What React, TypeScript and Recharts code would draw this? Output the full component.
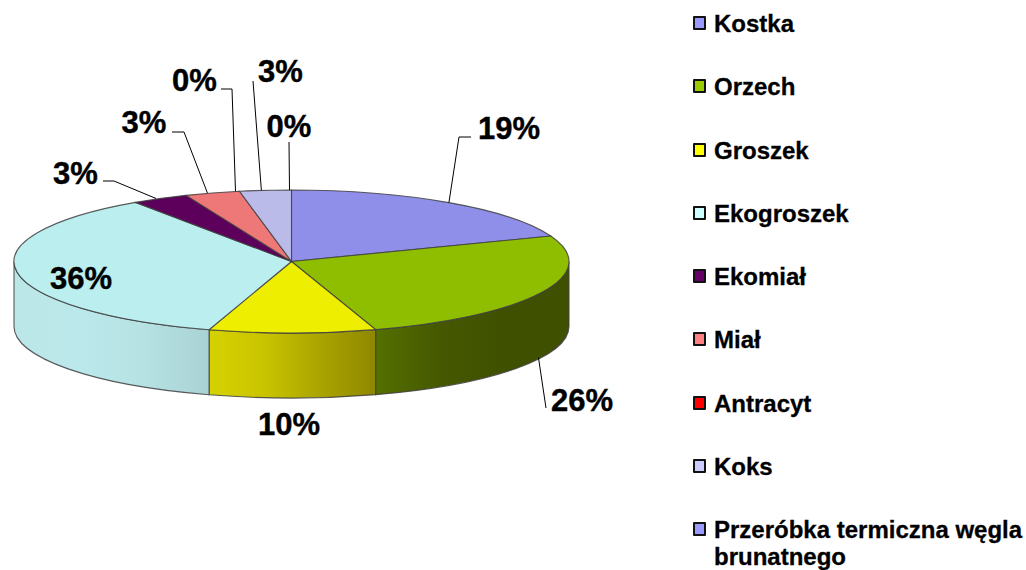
import React from "react";
import { PieChart, Pie, Legend } from "recharts";

const categories = ["Kostka", "Orzech", "Groszek", "Ekogroszek", "Ekomiał", "Miał", "Antracyt", "Koks", "Przeróbka termiczna węgla brunatnego"];
const shares = [19.2, 25.9, 9.7, 35.7, 3.3, 3.2, 0, 3.0, 0];

const topColors = ["#8f8fe9", "#8fbe00", "#eeee00", "#bbeeee", "#5c005c", "#ee7777", "#ee0000", "#bbbbe9", "#8f8fe9"];
const swatchColors = ["#9999ff", "#99cc00", "#ffff00", "#ccffff", "#660066", "#ff8080", "#ff0000", "#ccccff", "#9999ff"];
const wallStops: string[][] = [
  ["#8f8fe9", "#8f8fe9"],
  ["#557000", "#455800", "#3f5000", "#3f5000"],
  ["#d6d200", "#c9c400", "#aaa400", "#8f8800"],
  ["#bce7e9", "#bbe8ea", "#b6e2e4", "#a9d2d3"],
  ["#5c005c", "#5c005c"],
  ["#ee7777", "#ee7777"],
  ["#ee0000", "#ee0000"],
  ["#bbbbe9", "#bbbbe9"],
  ["#8f8fe9", "#8f8fe9"],
];

// leader routes and label placement, one per slice: text x, baseline y, rim shift, then waypoints
const labelSpots = [
  { x: 509, y: 139, dx: 0, path: [[459, 137], [471, 137]], onWall: false },
  { x: 582, y: 411, dx: -3, path: [[546, 408]], onWall: true },
  { x: 289, y: 435, dx: 0, path: [], onWall: false },
  { x: 81, y: 289, dx: 0, path: [], onWall: false },
  { x: 75.5, y: 184, dx: -4, path: [[114, 181], [103, 181]], onWall: false },
  { x: 144, y: 133, dx: -5, path: [[184, 132], [172, 132]], onWall: false },
  { x: 194.5, y: 91, dx: -4, path: [[232, 89], [221, 89]], onWall: false },
  { x: 280.5, y: 82, dx: -4, path: [[253, 81]], onWall: false },
  { x: 289, y: 137, dx: -2, path: [[289, 142]], onWall: false },
];

const SQUASH = 71.5 / 277.5;
const DEPTH = 65;
const FONT = "'Liberation Sans', Arial, sans-serif";
const EDGE = "#404040";

const rows = categories.map((name, i) => ({ name, value: shares[i], fill: swatchColors[i], idx: i }));

function rimPoint(cx: number, cy: number, r: number, clockFromTop: number) {
  const a = (clockFromTop * Math.PI) / 180;
  return { x: cx + r * Math.sin(a), y: cy - r * SQUASH * Math.cos(a) };
}

function Slice3D(props: any) {
  const { cx, cy, outerRadius: r, startAngle, endAngle } = props;
  const i: number = props.idx ?? props.payload?.idx ?? props.index ?? 0;
  const t0 = 90 - startAngle;
  const t1 = 90 - endAngle;
  if (t1 - t0 <= 0) return <g />;
  const ry = r * SQUASH;
  const a = rimPoint(cx, cy, r, t0);
  const b = rimPoint(cx, cy, r, t1);
  const large = t1 - t0 > 180 ? 1 : 0;
  const top = `M${cx},${cy}L${a.x},${a.y}A${r},${ry} 0 ${large} 1 ${b.x},${b.y}Z`;
  const ws = Math.max(t0, 90);
  const we = Math.min(t1, 270);
  let wall = null;
  if (ws < we) {
    const p = rimPoint(cx, cy, r, ws);
    const q = rimPoint(cx, cy, r, we);
    const d = `M${p.x},${p.y}A${r},${ry} 0 0 1 ${q.x},${q.y}L${q.x},${q.y + DEPTH}A${r},${ry} 0 0 0 ${p.x},${p.y + DEPTH}Z`;
    const stops = wallStops[i];
    wall = (
      <g>
        <defs>
          <linearGradient id={`wall${i}`} gradientUnits="userSpaceOnUse" x1={Math.min(p.x, q.x)} x2={Math.max(p.x, q.x)} y1={0} y2={0}>
            {stops.map((c, k) => (
              <stop key={k} offset={k / (stops.length - 1)} stopColor={c} />
            ))}
          </linearGradient>
        </defs>
        <path d={d} fill={`url(#wall${i})`} stroke={EDGE} strokeWidth={1.1} strokeOpacity={0.85} />
      </g>
    );
  }
  return (
    <g>
      {wall}
      <path d={top} fill={topColors[i]} stroke={EDGE} strokeWidth={1.1} strokeOpacity={0.85} />
    </g>
  );
}

function SliceLabel(props: any) {
  const { cx, cy, outerRadius: r, midAngle, percent, index } = props;
  const spot = labelSpots[index];
  if (!spot) return null;
  const rim = rimPoint(cx, cy, r, 90 - midAngle);
  const startY = spot.onWall ? rim.y + DEPTH : rim.y;
  const pts = [[rim.x + spot.dx, startY], ...spot.path].map((p) => p.join(",")).join(" ");
  return (
    <g>
      {spot.path.length > 0 && <polyline points={pts} fill="none" stroke="#000" strokeWidth={1} />}
      <text x={spot.x} y={spot.y} textAnchor="middle" fontFamily={FONT} fontWeight={700} fontSize={31} fill="#000" stroke="#000" strokeWidth={0.4}>
        {`${Math.round(percent * 100)}%`}
      </text>
    </g>
  );
}

function LegendList() {
  return (
    <div style={{ position: "relative", width: 333, fontFamily: FONT, fontWeight: 700, fontSize: 24, lineHeight: "27px", color: "#000", WebkitTextStroke: "0.3px #000" }}>
      {categories.map((name, i) => (
        <div key={name} style={{ position: "relative", height: 63.3, paddingLeft: 21, boxSizing: "border-box" }}>
          <span style={{ position: "absolute", left: 0, top: 6, width: 9, height: 10, border: "2.5px solid #111", background: swatchColors[i], borderRadius: 1 }} />
          {name}
        </div>
      ))}
    </div>
  );
}

export default function App() {
  return (
    <div style={{ position: "absolute", left: 0, top: 0, width: 1026, height: 570, background: "#fff", overflow: "hidden" }}>
      <PieChart width={1026} height={570} margin={{ top: 0, right: 0, bottom: 0, left: 0 }}>
        <Pie
          data={rows}
          dataKey="value"
          nameKey="name"
          cx={291.5}
          cy={261.5}
          innerRadius={0}
          outerRadius={277.5}
          startAngle={90}
          endAngle={-270}
          paddingAngle={0}
          stroke="none"
          isAnimationActive={false}
          shape={Slice3D}
          label={SliceLabel}
          labelLine={false}
        />
        <Legend content={LegendList} wrapperStyle={{ left: 693, top: 10, width: 333 }} />
      </PieChart>
    </div>
  );
}
